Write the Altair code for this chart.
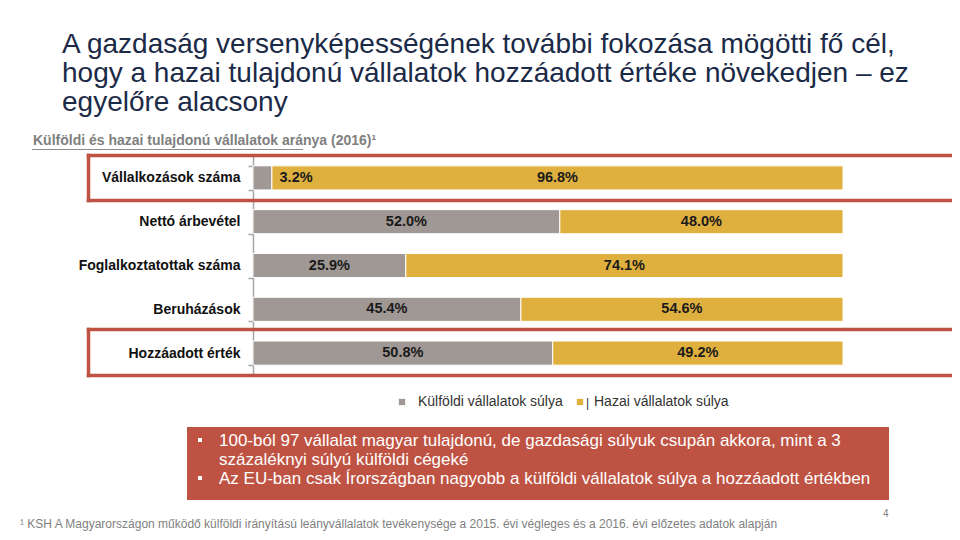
import altair as alt
import pandas as pd

# ---- data ----
categories = ["Vállalkozások száma", "Nettó árbevétel", "Foglalkoztatottak száma",
              "Beruházások", "Hozzáadott érték"]
foreign = [3.2, 52.0, 25.9, 45.4, 50.8]
domestic = [96.8, 48.0, 74.1, 54.6, 49.2]
series = ["Külföldi vállalatok súlya", "Hazai vállalatok súlya"]
colors = ["#A09894", "#E0B03E"]

title_text = ("A gazdaság versenyképességének további fokozása mögötti fő cél,\n"
              "hogy a hazai tulajdonú vállalatok hozzáadott értéke növekedjen – ez\n"
              "egyelőre alacsony")
subtitle_text = "Külföldi és hazai tulajdonú vállalatok aránya (2016)¹"
bullet1 = ("100-ból 97 vállalat magyar tulajdonú, de gazdasági súlyuk csupán akkora, mint a 3\n"
           "százaléknyi súlyú külföldi cégeké")
bullet2 = "Az EU-ban csak Írországban nagyobb a külföldi vállalatok súlya a hozzáadott értékben"
footnote = ("¹ KSH A Magyarországon működő külföldi irányítású leányvállalatok tevékenysége "
            "a 2015. évi végleges és a 2016. évi előzetes adatok alapján")
page_no = "4"

FONT = "Liberation Sans"
RED = "#BF5343"

rows = []
for c, f, d in zip(categories, foreign, domestic):
    fpos = f / 2 if f >= 5 else f + 4.1
    rows.append({"cat": c, "series": series[0], "start": 0.0, "end": f,
                 "label": f"{f:.1f}%", "pos": fpos})
    rows.append({"cat": c, "series": series[1], "start": f, "end": f + d,
                 "label": f"{d:.1f}%", "pos": f + d / 2})
df = pd.DataFrame(rows)

W, H = 590, 219

yenc = alt.Y("cat:N", sort=categories,
             scale=alt.Scale(paddingInner=0.45, paddingOuter=0.225),
             axis=alt.Axis(title=None, domainColor="#A6A6A6", domainWidth=1.5,
                           tickColor="#A6A6A6", tickSize=5, tickWidth=1.5,
                           tickBand="extent", labelPadding=8,
                           labelFont=FONT, labelFontSize=14, labelFontWeight="bold",
                           labelColor="#111111", labelLimit=300))
xscale = alt.Scale(domain=[0, 100], nice=False, zero=True)

bars = alt.Chart(df).mark_bar(stroke="white", strokeWidth=1).encode(
    y=yenc,
    x=alt.X("start:Q", scale=xscale, axis=None),
    x2="end:Q",
    color=alt.Color("series:N", scale=alt.Scale(domain=series, range=colors), legend=None),
)

bar_labels = alt.Chart(df).mark_text(font=FONT, fontSize=14.5, fontWeight="bold",
                                     color="#1a1a1a", baseline="middle").encode(
    y=alt.Y("cat:N", sort=categories),
    x=alt.X("pos:Q", scale=xscale),
    text="label:N",
)

# red highlight boxes (first and last row), open on the right
BL, BR = -164.5, 760
box_top = [-0.5, 173.5]
box_bot = [44.5, 219.5]
hl_df = pd.DataFrame({"x": [BL] * 4, "x2": [BR] * 4, "y": box_top + box_bot})
vl_df = pd.DataFrame({"x": [BL, BL], "y": box_top, "y2": box_bot})
box_h = alt.Chart(hl_df).mark_rule(color=RED, strokeWidth=3.5, strokeCap="square").encode(
    x=alt.X("x:Q", scale=None), x2="x2:Q", y=alt.Y("y:Q", scale=None))
box_v = alt.Chart(vl_df).mark_rule(color=RED, strokeWidth=3.5, strokeCap="square").encode(
    x=alt.X("x:Q", scale=None), y=alt.Y("y:Q", scale=None), y2="y2:Q")


def text_layer(txt, x, y, **kw):
    return alt.Chart(pd.DataFrame({"t": [txt]})).mark_text(
        font=FONT, align="left", baseline="alphabetic", **kw
    ).encode(x=alt.value(x), y=alt.value(y), text="t:N")


title = text_layer(title_text, -191, -103, fontSize=28, color="#1B2A47",
                   lineBreak="\n", lineHeight=29)
subtitle = text_layer(subtitle_text, -220, -11, fontSize=14, fontWeight="bold",
                      color="#7F7F7F")
underline = alt.Chart(pd.DataFrame({"a": [0]})).mark_rule(color="#8C8C8C", strokeWidth=1).encode(
    x=alt.value(-221), x2=alt.value(50), y=alt.value(-6.5))

# legend
leg_df = pd.DataFrame({"series": series, "px": [149, 327], "tx": [165, 341]})
leg_sym = alt.Chart(leg_df).mark_square(size=40, opacity=1).encode(
    x=alt.X("px:Q", scale=None), y=alt.value(246),
    color=alt.Color("series:N", scale=alt.Scale(domain=series, range=colors), legend=None))
leg_txt = alt.Chart(leg_df).mark_text(font=FONT, fontSize=14, align="left",
                                      baseline="middle", color="#333333").encode(
    x=alt.X("tx:Q", scale=None), y=alt.value(246), text="series:N")
leg_bar = text_layer("|", 333, 251, fontSize=12, color="#333333")

# callout
callout = alt.Chart(pd.DataFrame({"a": [0]})).mark_rect(color=RED).encode(
    x=alt.value(-66), x2=alt.value(636), y=alt.value(271), y2=alt.value(344))
b_txt1 = text_layer(bullet1, -34, 290, fontSize=17, color="white",
                    lineBreak="\n", lineHeight=19)
b_txt2 = text_layer(bullet2, -34, 328, fontSize=17, color="white")
bul_df = pd.DataFrame({"y": [284, 322]})
bullets = alt.Chart(bul_df).mark_square(size=16, color="white", opacity=1).encode(
    x=alt.value(-53), y=alt.Y("y:Q", scale=None))

foot = text_layer(footnote, -233, 372, fontSize=12, color="#7F7F7F")
pnum = text_layer(page_no, 630, 361, fontSize=10, color="#7F7F7F")

chart = alt.layer(
    bars, bar_labels, box_h, box_v, title, subtitle, underline, leg_sym, leg_txt, leg_bar,
    callout, bullets, b_txt1, b_txt2, foot, pnum
).properties(
    width=W, height=H,
    padding={"left": 245, "top": 148, "right": 109, "bottom": 157},
    autosize=alt.AutoSizeParams(type="none"),
    background="white",
).configure_view(stroke=None)

chart.save("out.html", embed_options={"renderer": "svg", "actions": False})
